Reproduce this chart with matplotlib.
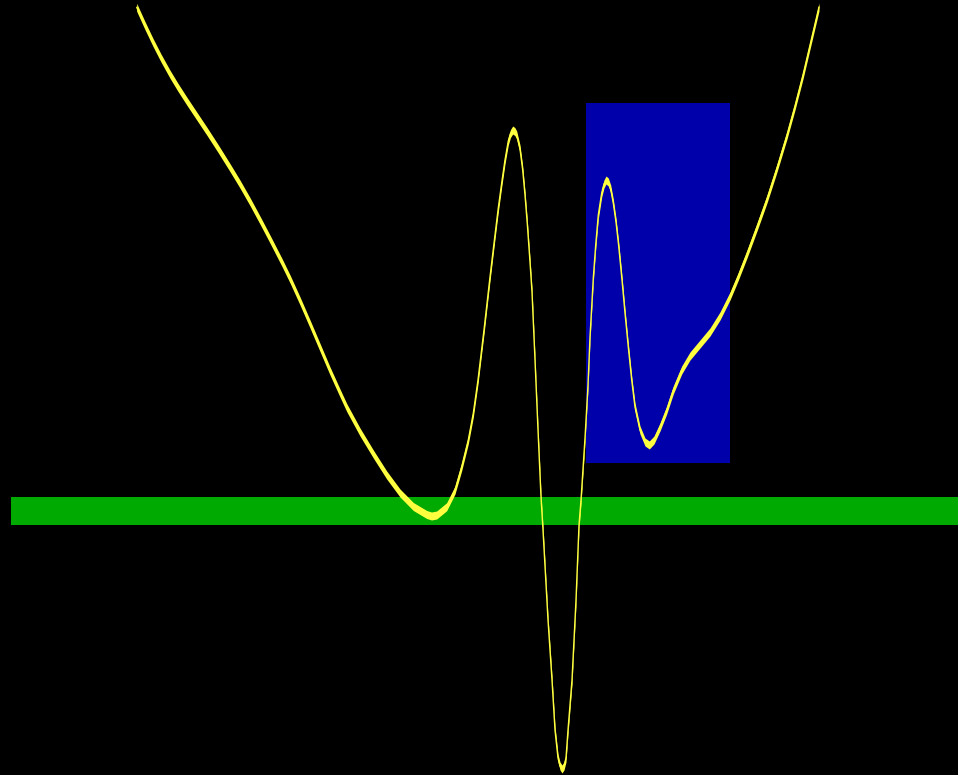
import numpy as np
import matplotlib
matplotlib.use("Agg")
import matplotlib.pyplot as plt

# ============ 数据 (读自原图, 像素坐标系, y 向下) ============
curve_x = [136.7, 145, 153, 161, 170, 178, 187, 197, 207, 218, 230, 240,
           250, 260, 270, 282, 290, 300, 310, 320, 330, 340, 346.7, 360,
           373.3, 386.7, 400, 413.3, 426.7, 431.5, 436.7, 446.7, 455, 461.7,
           468.3, 473.3, 478, 484, 490, 495, 498.3, 501.7, 505, 508.3, 510.5,
           512.7, 514.8, 516.7, 520, 522.7, 525, 527.3, 530, 532, 535, 538,
           541, 543, 548, 552, 555, 558, 560, 562, 564, 566, 568, 572, 576,
           579, 581, 585, 588, 590, 593.3, 595.7, 598.3, 601.7, 604, 606,
           608.3, 610.7, 613.3, 616, 618.7, 622, 625, 628.3, 631.7, 635, 640,
           645, 649.3, 654, 660, 666.7, 673.3, 681.7, 690, 700, 710, 720, 730,
           738, 747, 757, 767, 777, 787, 795, 803, 811, 819]
curve_y = [7.3, 25.6, 42.4, 58, 74.2, 87.4, 101.4, 116.4, 131.4, 148.4,
           167.6, 184.1, 201.6, 220.1, 239.1, 262.5, 278.9, 300.9, 323.9,
           347.4, 370.9, 393, 407.5, 432, 454, 475, 493, 506.5, 514.5, 516,
           515, 506.7, 490, 466.7, 440, 413.3, 380, 330, 277, 235, 208, 183,
           160, 141, 133.5, 130, 131.5, 135, 149, 170, 195, 224, 262, 292,
           360, 430, 497, 530, 620, 680, 730, 758, 766, 769, 766, 758, 730,
           680, 600, 525, 500, 438, 385, 337, 278, 245, 215, 193, 184, 180,
           182, 189, 203, 222, 246, 280, 313, 347, 380, 407, 430, 442, 445,
           440, 427, 410, 390, 370, 356, 344, 332, 316, 296, 277, 254, 227,
           199, 168, 135, 106, 75, 41, 7]

band_left, band_right = 11, 958          # 绿色横带
band_top, band_bottom = 497, 525
box_left, box_right = 586, 730           # 蓝色矩形
box_top, box_bottom = 103, 463

W, H = 958, 775
HALF_T = 4.0                             # 曲线竖直半厚度

# ============ 绘图 ============
fig = plt.figure(figsize=(W / 100, H / 100), dpi=100, facecolor="black")
ax = fig.add_axes([0, 0, 1, 1])
ax.set_facecolor("black")
ax.set_xlim(0, W)
ax.set_ylim(H, 0)
ax.axis("off")

ax.barh(band_top, band_right - band_left, height=band_bottom - band_top,
        left=band_left, align="edge", color="#00aa00", linewidth=0, zorder=1)
ax.bar(box_left, box_bottom - box_top, width=box_right - box_left,
       bottom=box_top, align="edge", color="#0000aa", linewidth=0, zorder=1)

cx = np.array(curve_x)
cy = np.array(curve_y)
ax.fill_between(cx, cy - HALF_T, cy + HALF_T, color="#ffff40",
                linewidth=0, zorder=3)
ax.plot(cx, cy, color="#ffff40", linewidth=1.0, solid_joinstyle="round",
        solid_capstyle="round", zorder=4)

fig.savefig("out.png", dpi=100, facecolor="black")
